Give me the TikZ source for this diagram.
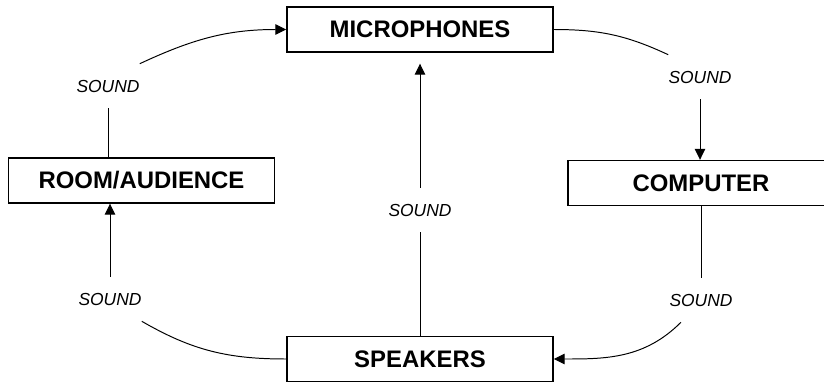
\documentclass[tikz,border=0pt]{standalone}
\usepackage{fontspec}
\setmainfont{Liberation Sans}
\usetikzlibrary{arrows.meta}
\tikzset{
  box/.style={draw,line width=1pt,minimum width=6.65cm,minimum height=1.125cm,inner sep=0pt,font=\fontsize{17}{20}\selectfont\bfseries},
  snd/.style={inner xsep=0pt,inner ysep=0pt,minimum height=1.1cm,font=\fontsize{12.4}{14}\selectfont\itshape},
  con/.style={line width=0.7pt},
  arr/.style={con,-{Triangle[length=0.27cm,width=0.26cm]}}
}
\begin{document}
\begin{tikzpicture}[x=0.025cm,y=-0.025cm]
	\useasboundingbox (0,0) rectangle (824,382);
	\node[box] (mic) at (420,29.5) {MICROPHONES};
	\node[box] (room) at (141.5,180.5) {ROOM/AUDIENCE};
	\node[box] (comp) at (701,183) {COMPUTER};
	\node[box] (spk) at (420,359) {SPEAKERS};
	\node[snd] (stl) at (108,86) {SOUND};
	\node[snd] (str) at (700,77) {SOUND};
	\node[snd] (smid) at (420,210) {SOUND};
	\node[snd] (sbl) at (110,299) {SOUND};
	\node[snd] (sbr) at (701,300) {SOUND};
	\draw[con] (stl.south |- room.north) -- (stl.south);
	\draw[arr] (stl.north east) to[out=25,in=180] (mic.west);
	\draw[con] (mic.east) to[out=0,in=155] (str.north west);
	\draw[arr] (str.south) -- (str.south |- comp.north);
	\draw[con] (sbr.south |- comp.south) -- (sbr.north);
	\draw[arr] (sbr.228) to[out=225,in=0] (spk.east);
	\draw[con] (spk.north) -- (smid.south);
	\draw[arr,shorten >=0.275cm] (smid.north) -- (mic.south);
	\draw[con] (spk.west) to[out=180,in=-30] (sbl.south east);
	\draw[arr] (sbl.north) -- (sbl.north |- room.south);
\end{tikzpicture}
\end{document}
